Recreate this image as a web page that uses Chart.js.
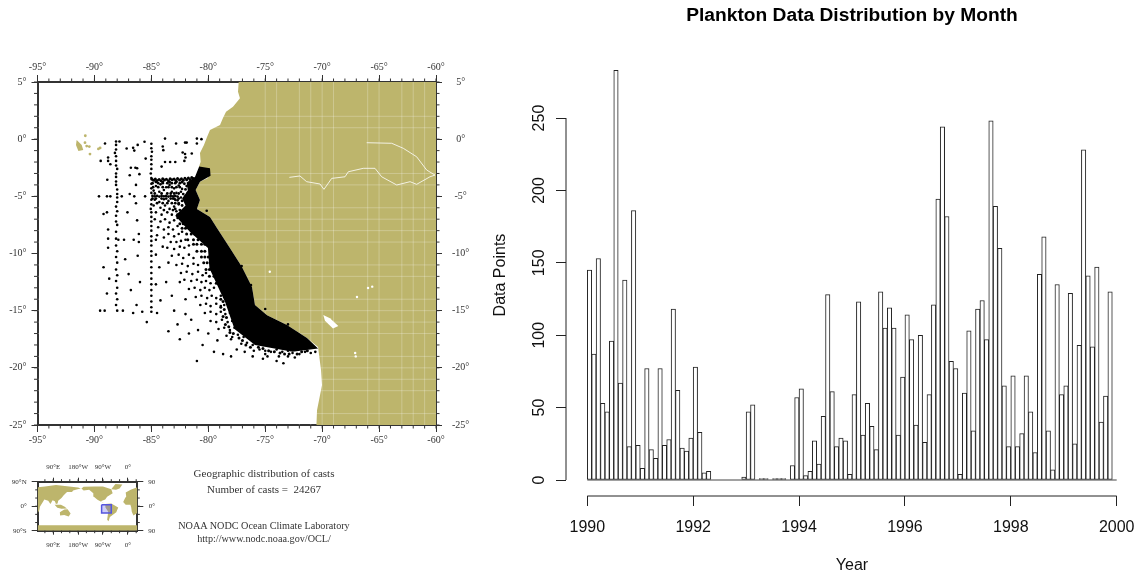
<!DOCTYPE html>
<html>
<head>
<meta charset="utf-8">
<title>Plankton Data Distribution by Month</title>
<script src="https://cdn.jsdelivr.net/npm/chart.js@4"></script>
<style>
    html, body { margin: 0; padding: 0; background: #fff; overflow: hidden; }
    #page { position: relative; width: 1138px; height: 575px; overflow: hidden; }
    canvas { position: absolute; }
    #mapChart, #insetChart, .caption { filter: blur(0.5px); }
    #barChart { left: 480px; top: 0; filter: blur(0.25px); }
    #mapChart { left: 0; top: 50px; }
    #insetChart { left: 0; top: 455px; }
    .caption { position: absolute; left: 150px; width: 228px; text-align: center; white-space: pre;
               font: 11px "Liberation Serif", serif; color: #333; }
    .caption.small { font-size: 10.2px; }
</style>
</head>
<body>
<div id="page">
    <canvas id="mapChart" width="480" height="410"></canvas>
    <canvas id="insetChart" width="170" height="105"></canvas>
    <canvas id="barChart" width="658" height="575"></canvas>
    <div class="caption" style="top:467px">Geographic distribution of casts</div>
    <div class="caption" style="top:483px">Number of casts =  24267</div>
    <div class="caption small" style="top:520px">NOAA NODC Ocean Climate Laboratory</div>
    <div class="caption small" style="top:533px">http://www.nodc.noaa.gov/OCL/</div>
</div>
<script>
// Monthly data points, Jan 1990 to Dec 1999
const monthlyCounts = [
    145, 87, 153, 53, 47, 96, 283, 67, 138, 23, 186, 24,
    8, 77, 21, 15, 77, 24, 28, 118, 62, 22, 20, 29,
    78, 33, 5, 6, 0, 0, 0, 0, 0, 0, 0, 2,
    47, 52, 0, 1, 1, 0, 1, 1, 1, 0, 10, 57,
    63, 3, 6, 27, 11, 44, 128, 61, 23, 29, 27, 4,
    59, 123, 31, 53, 37, 21, 130, 105, 119, 105, 31, 71,
    114, 97, 38, 100, 26, 59, 121, 194, 244, 182, 82, 77,
    4, 60, 103, 34, 118, 124, 97, 248, 189, 160, 65, 23,
    72, 23, 32, 72, 47, 19, 142, 168, 34, 7, 135, 59,
    65, 129, 25, 93, 228, 141, 92, 147, 40, 58, 130, 0
];
const yearTicks = [1990, 1992, 1994, 1996, 1998, 2000];
const countTicks = [0, 50, 100, 150, 200, 250];

// Map axes
const mapLonTicks = [-95, -90, -85, -80, -75, -70, -65, -60];
const mapLatTicks = [5, 0, -5, -10, -15, -20, -25];
const gridLons = [-75, -74, -72, -71, -70, -69, -66, -65, -63, -62, -61];
const gridLats = [2, 1, -3, -4, -6, -7, -8, -9, -11, -12, -14, -15, -16, -17, -19, -20, -21, -22, -24];

// South American coast, lon/lat
const landOutline = [
    [-77.33, 5], [-77.39, 4.15], [-77.22, 3.57], [-77.83, 2.84], [-78.44, 2.4], [-78.71, 1.85],
    [-78.97, 1.24], [-79.85, 0.8], [-80.11, 0.19], [-80.38, -0.51], [-80.73, -1.21], [-80.67, -1.97],
    [-80.82, -2.44], [-79.85, -2.7], [-80.03, -3.4], [-80.73, -3.72], [-81.11, -4.45], [-80.73, -5.32],
    [-81, -6.1], [-79.85, -6.81], [-79.24, -7.77], [-78.1, -9.52], [-77.04, -11.19], [-76.16, -12.94],
    [-75.9, -14.51], [-74.84, -15.39], [-73.09, -16.26], [-71.33, -17.4], [-70.36, -18.18], [-70.1, -20.2],
    [-70.01, -21.5], [-70.45, -23.7], [-70.5, -25], [-55, -25], [-55, 5]
];
const titicaca = [[-69.9, -15.38], [-69.31, -15.67], [-68.58, -16.35], [-69.05, -16.55], [-69.75, -15.88]];
const smallLakes = [[-66.94, -13.81], [-65.97, -13.02], [-65.6, -12.9], [-67.1, -18.7], [-67.05, -19], [-74.6, -11.6]];
const amazon = [
    [-72.88, -3.34], [-71.95, -3.22], [-71.36, -3.72], [-70.19, -3.92], [-69.84, -4.39], [-69.16, -3.43],
    [-67.99, -3.29], [-67.7, -2.85], [-66.39, -2.55], [-65.36, -2.55], [-64.77, -3.29], [-63.45, -4.01],
    [-62.28, -3.72], [-61.7, -3.95], [-60.53, -3.29], [-60.09, -3.14]
];
const rioNegro = [[-66.09, -0.31], [-63.89, -0.36], [-62.87, -0.8], [-61.7, -1.54], [-60.82, -2.7], [-60.09, -3.14]];
const isabela = [[-91.56, -0.07], [-91.12, -0.51], [-90.98, -0.95], [-91.41, -1.04], [-91.62, -0.51]];
const smallIslands = [[-90.68, -0.6], [-90.45, -0.65], [-90.83, -0.31], [-89.5, -0.77], [-89.65, -0.85], [-90.39, -1.3], [-90.8, 0.3]];

// Where the casts merge into solid black
const denseBand = [
    [-80.8, -2.4], [-79.85, -2.55], [-79.8, -3.2], [-80.73, -3.72], [-81.11, -4.45], [-80.73, -5.32], [-81, -6.1],
    [-79.85, -6.81], [-79.24, -7.77], [-78.1, -9.52], [-77.04, -11.19], [-76.16, -12.94], [-75.9, -14.51],
    [-74.84, -15.39], [-73.09, -16.26], [-71.33, -17.4], [-70.36, -18.3], [-72.6, -18.6], [-75.9, -18],
    [-77.7, -16.6], [-78.5, -14.3], [-79.9, -11.3], [-80.03, -9.52], [-81.6, -8.13],
    [-82.9, -6.7], [-82, -5.8], [-82.3, -5.2], [-81.8, -4.5], [-81.9, -3.8], [-81.17, -3.3]
];

// Individual casts, hand estimated
const trackWest = [
    [-88.1, -0.2], [-87.8, -0.2], [-88.1, -0.5], [-88.1, -0.9], [-88.2, -1.2], [-88.1, -1.5], [-88.1, -1.9], [-88.1, -2.3],
    [-88, -2.6], [-88.1, -3], [-88.1, -3.3], [-88.1, -3.7], [-88.1, -4], [-88, -4.4], [-88, -4.8], [-88, -5.1], [-88, -5.5],
    [-88.1, -5.9], [-88, -6.3], [-88.1, -6.7], [-88.1, -7.2], [-88, -7.5], [-88.1, -8.1], [-88.1, -8.7], [-87.9, -8.8],
    [-88.1, -9.3], [-88, -9.8], [-88.1, -10.3], [-88, -10.8], [-88.1, -11.4], [-88, -11.9], [-88.1, -12.4], [-88, -13],
    [-88.1, -13.5], [-88, -14], [-88.1, -14.5], [-88, -15]
];
const track85 = [
    [-85, -0.4], [-85, -0.8], [-84.95, -1.1], [-85, -1.5], [-85, -1.8], [-85, -2.2], [-85, -2.6], [-85.05, -3], [-85, -3.4],
    [-85, -3.9], [-85, -4.3], [-85, -4.7], [-85, -5.3], [-85, -5.7], [-85.05, -6.1], [-85, -6.4], [-85, -6.8], [-85, -7.2],
    [-85, -7.6], [-85, -8], [-85, -8.5], [-85, -8.9], [-85, -9.3], [-85, -9.8], [-85, -10.2], [-85, -10.7], [-85, -11.2],
    [-85, -11.7], [-85, -12.2], [-85, -12.7], [-85, -13.2], [-85, -13.7], [-85, -14.2], [-85, -14.7], [-85, -15.1]
];
const track35 = [
    [-84.95, -3.5], [-84.8, -3.6], [-84.65, -3.48], [-84.5, -3.62], [-84.32, -3.52], [-84.15, -3.64], [-84, -3.47], [-83.85, -3.58],
    [-83.68, -3.5], [-83.5, -3.63], [-83.35, -3.46], [-83.18, -3.56], [-83, -3.49], [-82.85, -3.62], [-82.7, -3.44], [-82.52, -3.57],
    [-82.36, -3.47], [-82.2, -3.6], [-82.05, -3.42], [-81.9, -3.55], [-81.75, -3.4], [-81.6, -3.52], [-81.45, -3.36], [-81.3, -3.45],
    [-84.6, -3.72], [-84, -3.74], [-83.4, -3.75], [-82.8, -3.72], [-82.3, -3.75]
];
const track50 = [
    [-84.9, -4.97], [-84.7, -5], [-84.5, -4.96], [-84.3, -5.02], [-84.1, -4.97], [-83.9, -5], [-83.7, -4.96], [-83.5, -5.02],
    [-83.3, -4.97], [-83.1, -5], [-82.9, -4.96], [-82.7, -5.02]
];
const castsSparse = [
    [-89.07, -0.38], [-87.17, -0.82], [-86.6, -0.76], [-86.5, -1], [-86.2, -0.5], [-85.6, -0.23], [-83.8, 0.05], [-84, -0.64],
    [-83.95, -0.96], [-82.83, -0.38], [-82.04, -0.3], [-81.9, -0.3], [-81, 0.05], [-80.6, 0], [-81, -0.38], [-82.25, -1.17],
    [-82.04, -1.3], [-82, -1.6], [-82.1, -1.9], [-81.45, -1.25], [-83.35, -2], [-82.9, -2], [-83.8, -2], [-84.1, -2.4],
    [-85.5, -1.7], [-89.45, -1.9], [-88.8, -1.6], [-88.8, -1.9], [-88.6, -2.2], [-86.8, -2.5], [-86.4, -2.5], [-86.25, -2.55],
    [-86.9, -3.15], [-86.05, -3.06], [-88.87, -3.55], [-86.35, -4], [-89.6, -5], [-88.9, -5], [-88.6, -5], [-87.6, -5],
    [-86.9, -4.8], [-86.5, -5], [-85.55, -5], [-86.35, -5.6], [-87.1, -6.4], [-88.9, -6.4], [-89.2, -6.55], [-86.25, -7.1],
    [-88.8, -7.9], [-86.1, -8.3], [-88.8, -8.7], [-87.4, -8.8], [-86.55, -8.8], [-86.1, -9], [-88.8, -9.5],
    [-89.2, -11.2], [-88.7, -12.2], [-88.9, -13.5], [-89.5, -15], [-89.1, -15], [-87.3, -10.5], [-87, -11.8], [-86.8, -13.2],
    [-86.2, -10.2], [-86, -12.5], [-86.3, -14.5], [-87.5, -15], [-86.6, -15.2], [-85.8, -15.1], [-85.4, -16], [-84.5, -15.2],
    [-84.2, -14.1], [-84.6, -12.7], [-84.3, -11.2], [-84.6, -10.1], [-84, -9.4], [-83.5, -10.8], [-83.7, -12.5], [-83.2, -13.7],
    [-83, -15], [-83.5, -16.8], [-82.7, -16.2], [-82.5, -17.5], [-81.7, -17], [-81, -19.4], [-82, -15.3], [-82, -14],
    [-82.5, -12.5], [-81.5, -15.8], [-80.9, -16.7], [-80.5, -18], [-79.5, -18.6], [-80, -17], [-78.7, -18.8], [-78, -19],
    [-79.2, -17.6], [-77.5, -18.4], [-78, -17.5], [-76.8, -18.6], [-76.1, -19], [-75.2, -19.2], [-75, -18.8], [-74, -19.4],
    [-73.4, -19.6], [-77.07, -11.1], [-76.25, -12.76], [-75, -14.86], [-73, -16.2], [-80.14, -6.26]
];
const castsNorthShelf = [
    [-84.6, -4.1], [-84.2, -3.95], [-83.7, -4.2], [-83.4, -4], [-83, -4.3], [-82.6, -4.05], [-82.3, -4.35], [-84.8, -4.5],
    [-84.3, -4.6], [-83.9, -4.45], [-83.2, -4.6], [-82.8, -4.7], [-82.4, -4.6], [-84.7, -5.3], [-84.3, -5.5], [-83.9, -5.25],
    [-83.5, -5.4], [-83.1, -5.2], [-82.7, -5.35], [-82.4, -5.1], [-84.8, -5.8], [-84.2, -6], [-83.8, -5.8], [-83.4, -6.1],
    [-83, -5.9], [-82.6, -5.7], [-84.6, -6.4], [-84.1, -6.6], [-83.6, -6.4], [-83.2, -6.6], [-82.8, -6.3], [-84.7, -7],
    [-84.2, -7.2], [-83.8, -7], [-83.4, -7.3], [-83, -7.1], [-82.7, -6.9], [-84.4, -7.7], [-83.9, -7.9], [-83.5, -7.7],
    [-83.1, -7.9], [-82.7, -7.6], [-84.5, -8.4], [-83.9, -8.6], [-83.5, -8.3], [-83, -8.5], [-82.6, -8.3], [-82.3, -8.1],
    [-84.6, -8.8], [-83.3, -9], [-82.8, -9], [-82.4, -8.9], [-82, -8.8]
];
const castsNorthRows = [
    [-84.9, -3.85], [-84.4, -3.85], [-84, -3.85], [-83.6, -3.85], [-83.2, -3.85], [-82.9, -3.85], [-82.5, -3.85],
    [-82.1, -3.9], [-81.9, -4.1], [-82, -4.4], [-81.8, -4.7],
    [-84.85, -4.2], [-84.4, -4.2], [-84, -4.2], [-83.5, -4.2], [-83.2, -4.2], [-82.8, -4.2], [-82.5, -4.2],
    [-84.7, -4.75], [-84.1, -4.75], [-83.6, -4.75], [-83.3, -4.75], [-83, -4.75], [-82.6, -4.75], [-82.2, -4.8], [-82, -5],
    [-84.9, -5.2], [-84.6, -5.2], [-84.1, -5.2], [-83.7, -5.2], [-83.3, -5.2], [-83, -5.2], [-82.9, -5.3], [-82.6, -5.2], [-82.3, -5.4],
    [-84.5, -5.6], [-84, -5.6], [-83.6, -5.6], [-83.2, -5.6], [-82.9, -5.6], [-82.6, -5.6], [-82.3, -5.8],
    [-83.9, -6.2], [-83.1, -6.2], [-82.9, -6.1], [-82.5, -6.2], [-82.7, -6.6], [-82.5, -6.9]
];
const castsCentralShelf = [
    [-83.6, -9.5], [-83, -9.6], [-82.5, -9.4], [-82.1, -9.5], [-81.7, -9.3], [-83.2, -10.2], [-82.6, -10.1], [-82.2, -10.4],
    [-81.7, -10.1], [-81.3, -10.4], [-82.8, -11], [-82.3, -10.9], [-81.8, -11.1], [-81.3, -10.9], [-80.9, -11], [-82.4, -11.7],
    [-81.9, -11.6], [-81.4, -11.8], [-80.9, -11.6], [-80.5, -11.9], [-80.2, -11.7], [-82.1, -12.3], [-81.5, -12.4], [-81, -12.3],
    [-80.6, -12.5], [-80.2, -12.4], [-79.8, -12.6], [-81.7, -13.1], [-81.2, -13], [-80.7, -13.2], [-80.3, -13], [-79.9, -13.2],
    [-79.5, -13], [-81.1, -13.8], [-80.6, -13.7], [-80.1, -13.9], [-79.7, -13.7], [-79.3, -13.9], [-78.9, -13.7]
];
const castsSouthShelf = [
    [-80.7, -14.5], [-80.2, -14.4], [-79.8, -14.6], [-79.3, -14.4], [-78.9, -14.6], [-78.6, -14.5], [-80.3, -15.2], [-79.8, -15.1],
    [-79.3, -15.3], [-78.9, -15.1], [-78.5, -15.3], [-78.1, -15.2], [-79.8, -15.9], [-79.3, -16], [-78.8, -15.8], [-78.3, -16],
    [-77.9, -15.9], [-77.6, -16.1], [-79.1, -16.6], [-78.6, -16.5], [-78.1, -16.7], [-77.7, -16.5], [-77.2, -16.7], [-76.9, -16.6],
    [-78.4, -17.2], [-77.9, -17.3], [-77.4, -17.1], [-76.9, -17.3], [-76.5, -17.1], [-76.1, -17.3], [-77.1, -17.9], [-76.6, -17.8],
    [-76.1, -18], [-75.7, -17.8], [-75.2, -18], [-74.8, -17.8], [-74.4, -18.1], [-76, -18.5], [-75.5, -18.4], [-75, -18.5],
    [-74.5, -18.6], [-74, -18.4], [-73.5, -18.6], [-73, -18.5], [-72.6, -18.7], [-74.8, -19], [-73.8, -19], [-73, -19],
    [-72.4, -19.1], [-72, -18.8], [-71.5, -18.6], [-71, -18.7], [-70.6, -18.6]
];
const castsBandEdge = [
    [-82.5, -7.4], [-82.2, -7.4], [-81.9, -7.4], [-82.3, -7.8], [-82, -7.8], [-81.7, -7.8], [-81.9, -8.3], [-81.5, -8.3], [-81.2, -8.3],
    [-81.8, -8.8], [-81.3, -8.8], [-80.9, -8.8], [-80.6, -8.8], [-81.3, -9.2], [-81, -9.2], [-80.6, -9.2], [-80.3, -9.2],
    [-81, -9.8], [-80.6, -9.8], [-80.3, -9.8], [-80.6, -10.3], [-80.3, -10.3], [-80, -10.3], [-79.8, -10.3],
    [-80.4, -10.8], [-80.1, -10.8], [-79.8, -10.8], [-80.2, -11.4], [-79.9, -11.4], [-79.7, -11.4],
    [-79.9, -12], [-79.5, -12], [-79.2, -12], [-79.3, -12.6], [-79, -12.6], [-78.7, -12.6], [-78.8, -13.2], [-78.5, -13.2], [-78.2, -13.2],
    [-78.9, -14], [-78.7, -14.2], [-78.9, -14.7], [-78.6, -14.9], [-78.7, -15.5], [-78.4, -15.6], [-78.5, -16.2], [-78.2, -16.4],
    [-78.1, -16.9], [-77.8, -17], [-77.3, -17.4], [-77, -17.6], [-76.7, -18], [-76.3, -18.2],
    [-75.6, -18.2], [-75.2, -18.3], [-74.7, -18.5], [-74.2, -18.6], [-73.7, -18.7], [-73.3, -18.8], [-72.9, -18.8], [-72.2, -18.8],
    [-71.8, -18.6], [-71.3, -18.5]
];

// Inset world map, longitudes run on from 34E through 360 (0) to 394 (34E)
const insetLonTicks = [90, 180, 270, 360];
const insetLonLabels = ['90°E', '180°W', '90°W', '0°'];
const insetLatTicks = [90, 0, -90];
const insetLatLeft = ['90°N', '0°', '90°S'];
const insetLatRight = ['90', '0°', '90'];
const insetBox = [[265, 5], [300, 5], [300, -25], [265, -25]];
const worldLand = [
    [[34, 30], [34, 70], [60, 72], [100, 78], [140, 73], [180, 69], [190, 65], [178, 62], [162, 58], [158, 52], [140, 52], [128, 40], [120, 30], [108, 20], [106, 10], [100, 8], [96, 18], [88, 22], [80, 8], [72, 20], [58, 25], [51, 13], [42, -2], [40, -15], [34, -25]],
    [[354, 36], [350, 30], [343, 15], [352, 5], [369, 5], [372, -5], [374, -20], [380, -34], [394, -25], [394, 70], [370, 60], [352, 50]],
    [[192, 65], [200, 71], [240, 72], [270, 72], [300, 62], [305, 48], [285, 35], [278, 25], [262, 18], [278, 8], [265, 15], [250, 24], [237, 35], [235, 48], [220, 60], [200, 58]],
    [[300, 62], [315, 82], [340, 80], [330, 65], [317, 60]],
    [[278, 8], [300, 10], [325, -5], [318, -22], [295, -40], [290, -55], [285, -50], [289, -20], [279, -5]],
    [[114, -22], [130, -12], [142, -11], [153, -27], [146, -38], [130, -32], [115, -34]],
    [[95, 5], [105, -6], [120, -9], [140, -8], [130, -1], [118, 5]],
    [[34, -70], [394, -70], [394, -90], [34, -90]]
];

const LAND = '#bdb56c';
const INK = '#333';
const SERIF = '"Liberation Serif", serif';
const SANS = '"Liberation Sans", Arial, sans-serif';

const toPoints = pairs => pairs.map(([x, y]) => ({ x, y }));

function polygon(pairs, color) {
    return { data: toPoints(pairs), showLine: true, fill: 'shape', backgroundColor: color, borderWidth: 0, pointRadius: 0 };
}

function polyline(pairs, color, width) {
    return { data: toPoints(pairs), showLine: true, fill: false, borderColor: color, borderWidth: width, pointRadius: 0 };
}

function dots(pairs, color, radius) {
    return { data: toPoints(pairs), showLine: false, backgroundColor: color, borderWidth: 0, pointRadius: radius };
}

// Short ticks between the labelled ones, drawn through the chart's scales
function minorTicks(xValues, yValues, length) {
    return {
        id: 'minorTicks',
        afterDraw(chart) {
            const { ctx, chartArea: a, scales } = chart;
            ctx.save();
            ctx.strokeStyle = INK;
            ctx.lineWidth = 1;
            ctx.beginPath();
            xValues.forEach(v => {
                const px = scales.x.getPixelForValue(v);
                ctx.moveTo(px, a.top); ctx.lineTo(px, a.top - length);
                ctx.moveTo(px, a.bottom); ctx.lineTo(px, a.bottom + length);
            });
            yValues.forEach(v => {
                const py = scales.y.getPixelForValue(v);
                ctx.moveTo(a.left, py); ctx.lineTo(a.left - length, py);
                ctx.moveTo(a.right, py); ctx.lineTo(a.right + length, py);
            });
            ctx.stroke();
            ctx.restore();
        }
    };
}

// Four framed axes sharing one look
function framedAxis(position, min, max, values, labels, size, tickLength, padding, fontSize) {
    const horizontal = position === 'top' || position === 'bottom';
    return {
        type: 'linear',
        position,
        min,
        max,
        afterFit: s => { if (horizontal) s.height = size; else s.width = size; },
        afterBuildTicks: s => { s.ticks = values.map(value => ({ value })); },
        border: { display: true, color: INK, width: 2 },
        grid: { drawOnChartArea: false, drawTicks: true, tickLength, color: INK, lineWidth: 1 },
        ticks: {
            autoSkip: false,
            maxRotation: 0,
            padding,
            color: INK,
            font: { family: SERIF, size: fontSize },
            crossAlign: position === 'right' ? 'center' : 'near',
            callback: v => labels[values.indexOf(v)]
        }
    };
}

function initMap() {
    const lonLabels = mapLonTicks.map(v => v + '°');
    const latLabels = mapLatTicks.map(v => v + '°');
    const minorLon = [];
    const minorLat = [];
    for (let v = -95; v <= -60; v++) minorLon.push(v);
    for (let v = -25; v <= 5; v++) minorLat.push(v);

    const datasets = [
        dots(trackWest, '#000', 1.3),
        dots(track85, '#000', 1.3),
        dots(track35, '#000', 1.5),
        dots(track50, '#000', 1.4),
        dots(castsSparse, '#000', 1.3),
        dots(castsNorthShelf, '#000', 1.3),
        dots(castsNorthRows, '#000', 1.4),
        dots(castsCentralShelf, '#000', 1.3),
        dots(castsSouthShelf, '#000', 1.3),
        dots(castsBandEdge, '#000', 1.5),
        polygon(denseBand, '#000'),
        polygon(titicaca, '#fff'),
        dots(smallLakes, '#fff', 1.2),
        polyline(amazon, 'rgba(255,255,255,0.8)', 1),
        polyline(rioNegro, 'rgba(255,255,255,0.8)', 1),
        ...gridLons.map(v => polyline([[v, -25], [v, 5]], 'rgba(255,255,255,0.25)', 1)),
        ...gridLats.map(v => polyline([[-95, v], [-60, v]], 'rgba(255,255,255,0.25)', 1)),
        polygon(landOutline, LAND),
        polygon(isabela, LAND),
        dots(smallIslands, LAND, 1.4)
    ];

    new Chart(document.getElementById('mapChart'), {
        type: 'scatter',
        data: { datasets },
        options: {
            responsive: false,
            animation: false,
            events: [],
            plugins: { legend: { display: false }, tooltip: { enabled: false }, title: { display: false } },
            scales: {
                x: framedAxis('bottom', -95, -60, mapLonTicks, lonLabels, 35, 7, 2, 10),
                xTop: framedAxis('top', -95, -60, mapLonTicks, lonLabels, 32, 7, 2, 10),
                y: framedAxis('left', -25, 5, mapLatTicks, latLabels, 37.5, 6, 5, 10),
                yRight: framedAxis('right', -25, 5, mapLatTicks, latLabels, 44, 6, 10, 10)
            }
        },
        plugins: [minorTicks(minorLon, minorLat, 3.5)]
    });
}

function initInset() {
    const minorLon = [];
    const minorLat = [];
    for (let v = 60; v <= 390; v += 30) minorLon.push(v);
    for (let v = -60; v <= 60; v += 30) minorLat.push(v);

    const box = polygon(insetBox, 'rgba(90,90,230,0.3)');
    const outline = polyline(insetBox.concat([insetBox[0]]), '#5555dd', 1.5);

    new Chart(document.getElementById('insetChart'), {
        type: 'scatter',
        data: { datasets: [outline, box, ...worldLand.map(p => polygon(p, LAND))] },
        options: {
            responsive: false,
            animation: false,
            events: [],
            plugins: { legend: { display: false }, tooltip: { enabled: false }, title: { display: false } },
            scales: {
                x: framedAxis('bottom', 34, 394, insetLonTicks, insetLonLabels, 29.3, 4, 6, 7),
                xTop: framedAxis('top', 34, 394, insetLonTicks, insetLonLabels, 26.7, 4, 6, 7),
                y: framedAxis('left', -90, 90, insetLatTicks, insetLatLeft, 37.7, 6, 5, 7),
                yRight: framedAxis('right', -90, 90, insetLatTicks, insetLatRight, 32.7, 6, 5, 7)
            }
        },
        plugins: [minorTicks(minorLon, minorLat, 2.5)]
    });
}

// R-style axes stop at the first and last tick
const rangeAxes = {
    id: 'rangeAxes',
    afterDraw(chart) {
        const { ctx, chartArea: a, scales } = chart;
        ctx.save();
        ctx.strokeStyle = '#222';
        ctx.lineWidth = 1;
        ctx.beginPath();
        ctx.moveTo(scales.x.getPixelForValue(yearTicks[0]), a.bottom);
        ctx.lineTo(scales.x.getPixelForValue(yearTicks[yearTicks.length - 1]), a.bottom);
        ctx.moveTo(a.left, scales.y.getPixelForValue(countTicks[0]));
        ctx.lineTo(a.left, scales.y.getPixelForValue(countTicks[countTicks.length - 1]));
        ctx.stroke();
        ctx.restore();
    }
};

function initBars() {
    const bars = monthlyCounts.map((y, i) => ({ x: yearTicks[0] + (i + 0.5) / 12, y }));

    new Chart(document.getElementById('barChart'), {
        type: 'bar',
        data: {
            datasets: [
                {
                    type: 'line',
                    data: [{ x: yearTicks[0], y: 0 }, { x: yearTicks[yearTicks.length - 1], y: 0 }],
                    borderColor: '#444',
                    borderWidth: 1,
                    pointRadius: 0
                },
                {
                    label: 'Data Points',
                    data: bars,
                    backgroundColor: '#fff',
                    borderColor: '#222',
                    borderWidth: 1,
                    borderSkipped: false,
                    barPercentage: 1,
                    categoryPercentage: 1
                }
            ]
        },
        options: {
            responsive: false,
            animation: false,
            events: [],
            plugins: {
                legend: { display: false },
                tooltip: { enabled: false },
                title: {
                    display: true,
                    text: 'Plankton Data Distribution by Month',
                    fullSize: false,
                    color: '#000',
                    font: { family: SANS, size: 19.2, weight: 'bold' },
                    padding: { top: 4.5, bottom: 26.5 }
                }
            },
            scales: {
                x: {
                    type: 'linear',
                    offset: false,
                    min: 1989.5977,
                    max: 2000.4023,
                    afterFit: s => { s.height = 79; s.paddingLeft = 0; s.paddingRight = 0; },
                    afterBuildTicks: s => { s.ticks = yearTicks.map(value => ({ value })); },
                    border: { display: false },
                    grid: { offset: false, drawOnChartArea: false, tickLength: 10, color: '#222' },
                    ticks: { autoSkip: false, maxRotation: 0, padding: 12, color: '#111', font: { family: SANS, size: 16 }, callback: v => String(v) },
                    title: { display: true, text: 'Year', color: '#111', font: { family: SANS, size: 16 }, padding: { top: 0, bottom: 0 } }
                },
                y: {
                    type: 'linear',
                    min: -11.05,
                    max: 294.2,
                    afterFit: s => { s.width = 86; },
                    afterBuildTicks: s => { s.ticks = countTicks.map(value => ({ value })); },
                    border: { display: false },
                    grid: { drawOnChartArea: false, tickLength: 10, color: '#222' },
                    ticks: { autoSkip: false, minRotation: 90, maxRotation: 90, crossAlign: 'center', padding: 3, color: '#111', font: { family: SANS, size: 16 }, callback: v => String(v) },
                    title: { display: true, text: 'Data Points', color: '#111', font: { family: SANS, size: 16 }, padding: { top: 11.4, bottom: 0 } }
                }
            }
        },
        plugins: [rangeAxes]
    });
}

window.onload = () => {
    initMap();
    initInset();
    initBars();
};
</script>
</body>
</html>
